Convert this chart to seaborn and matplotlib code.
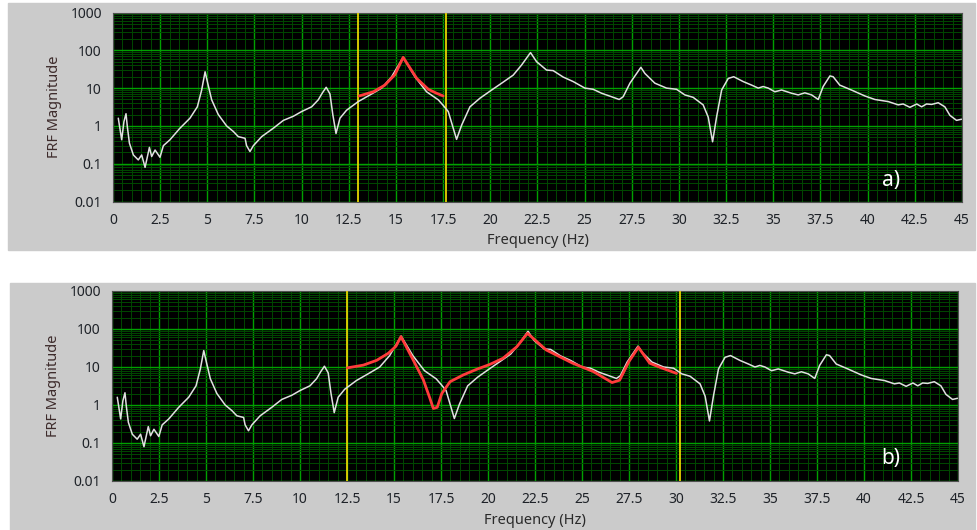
import matplotlib
matplotlib.use("Agg")
import matplotlib.pyplot as plt
import matplotlib.ticker as mticker
from matplotlib.patches import Rectangle
import seaborn as sns

# measured FRF magnitude (same trace in both panels)
FREQ = [0.28, 0.46, 0.58, 0.69, 0.76, 0.87, 1.08, 1.34, 1.52, 1.70, 1.93, 2.05,
        2.23, 2.49, 2.67, 3.02, 3.55, 4.08, 4.47, 4.70, 4.88, 5.02, 5.23, 5.58,
        6.02, 6.38, 6.64, 7.00, 7.08, 7.26, 7.44, 7.88, 8.50, 9.03, 9.56, 10.00,
        10.53, 10.88, 11.10, 11.30, 11.50, 11.65, 11.82, 12.03, 12.38, 13.00,
        13.62, 14.24, 14.77, 15.38, 16.00, 16.62, 17.24, 17.50, 17.77, 18.21,
        18.48, 18.92, 19.45, 20.07, 20.60, 21.21, 21.66, 22.13, 22.45, 22.98,
        23.33, 23.86, 24.39, 25.01, 25.45, 25.90, 26.43, 26.83, 27.04, 27.40,
        27.98, 28.19, 28.72, 29.34, 29.87, 30.31, 30.75, 31.28, 31.55, 31.78,
        31.99, 32.26, 32.61, 32.90, 33.40, 33.85, 34.20, 34.46, 34.73, 35.08,
        35.44, 35.97, 36.32, 36.67, 37.03, 37.38, 37.64, 38.00, 38.17, 38.52,
        39.14, 39.85, 40.38, 41.09, 41.62, 41.88, 42.24, 42.60, 42.86, 43.12,
        43.39, 43.74, 44.09, 44.36, 44.71, 44.97]
MAG = [1.6, 0.43, 1.3, 2.1, 0.95, 0.35, 0.17, 0.126, 0.17, 0.08, 0.27, 0.155,
       0.23, 0.148, 0.30, 0.43, 0.87, 1.6, 3.2, 8.9, 27, 13.5, 4.9, 2.0,
       1.0, 0.71, 0.52, 0.47, 0.30, 0.21, 0.30, 0.52, 0.87, 1.4, 1.8, 2.4,
       3.2, 4.9, 7.5, 10.5, 7.0, 2.0, 0.63, 1.6, 2.6, 4.4,
       6.6, 10, 20, 65, 20, 8, 4.9, 3.5, 2.4, 0.44,
       1.05, 3.2, 5.4, 8.9, 13.5, 22, 41, 87, 50, 30,
       29, 19.6, 14.9, 10, 9.3, 7.3, 5.9, 5.0, 5.9, 13.5,
       35.5, 24.5, 13.5, 10, 9.3, 6.6, 5.7, 3.6, 1.7, 0.38,
       1.7, 8.9, 18, 20, 14.9, 12, 10, 11, 10, 8,
       8.9, 7.3, 6.6, 7.5, 6.6, 5.0, 11, 21, 20, 12,
       8.9, 6.2, 5.0, 4.4, 3.6, 3.8, 3.1, 3.8, 3.2, 3.8,
       3.7, 4.1, 3.2, 1.9, 1.4, 1.5]

# fitted curves
FIT_A_FREQ = [13.05, 13.8, 14.41, 14.94, 15.38, 16.1, 16.71, 17.15, 17.5]
FIT_A_MAG = [6.2, 8, 12, 22.6, 65, 18, 9.3, 7.3, 6.2]
FIT_B_FREQ = [12.52, 13.37, 14.08, 14.7, 15.1, 15.37, 16.03, 16.56, 16.91, 17.09,
              17.3, 17.54, 17.98, 18.69, 19.4, 20.1, 20.8, 21.53, 22.1, 23.1,
              24.5, 25.6, 26.6, 27.0, 27.5, 28.0, 28.6, 29.15, 30.03]
FIT_B_MAG = [9.5, 11.2, 15, 23, 35, 63, 15, 4.6, 1.5, 0.81,
             0.87, 2.0, 4.1, 6.2, 8.7, 11.7, 17, 34, 77, 28,
             12.6, 7.6, 3.9, 4.5, 14, 33, 12.6, 9.8, 6.8]

CURSORS_A = [13.0, 17.65]
CURSORS_B = [12.5, 30.2]

X_TICKS = [0, 2.5, 5, 7.5, 10, 12.5, 15, 17.5, 20, 22.5, 25, 27.5, 30, 32.5,
           35, 37.5, 40, 42.5, 45]
Y_TICKS = [0.01, 0.1, 1, 10, 100, 1000]

W, H = 978, 530
FONT = ["Noto Sans", "DejaVu Sans"]


def px_box(left, top, right, bottom):
    return [left / W, 1 - bottom / H, (right - left) / W, (bottom - top) / H]


def draw_panel(fig, box, fit_f, fit_m, cursors, tag, tag_pos):
    ax = fig.add_axes(px_box(*box))
    ax.set_facecolor("black")
    for x in cursors:
        ax.axvline(x, color="#e6d200", lw=1.3, zorder=3)
    sns.lineplot(x=FREQ, y=MAG, ax=ax, color="#e0e0e0", linewidth=1.1,
                 estimator=None, sort=False, zorder=4)
    sns.lineplot(x=fit_f, y=fit_m, ax=ax, color="#ff3b3b", linewidth=2.0,
                 estimator=None, sort=False, zorder=5)
    ax.set_yscale("log")
    ax.set_xlim(0, 45)
    ax.set_ylim(0.01, 1000)
    ax.set_xticks(X_TICKS)
    ax.set_yticks(Y_TICKS)
    ax.xaxis.set_minor_locator(mticker.MultipleLocator(0.5))
    ax.yaxis.set_minor_locator(mticker.LogLocator(base=10, subs=range(2, 10)))
    fmt = mticker.FuncFormatter(lambda v, p: f"{v:g}")
    ax.xaxis.set_major_formatter(fmt)
    ax.yaxis.set_major_formatter(fmt)
    ax.yaxis.set_minor_formatter(mticker.NullFormatter())
    ax.grid(True, which="major", color="#00a000", lw=1.0, zorder=1)
    ax.grid(True, which="minor", color="#004800", lw=0.7, zorder=0)
    ax.set_axisbelow(True)
    ax.tick_params(which="major", length=5, width=1, color="#404040",
                   labelsize=10, labelcolor="#1e2228", pad=3)
    ax.tick_params(which="minor", length=0)
    for lab in ax.get_xticklabels() + ax.get_yticklabels():
        lab.set_family(FONT)
    for sp in ax.spines.values():
        sp.set_color("#505050")
        sp.set_linewidth(0.8)
    ax.set_xlabel("Frequency (Hz)", fontsize=10.5, color="#2a2a2a",
                  family=FONT, labelpad=4)
    ax.set_ylabel("FRF Magnitude", fontsize=10.5, color="#3d2b2b",
                  family=FONT, labelpad=6)
    ax.text(tag_pos[0], tag_pos[1], tag, color="white", fontsize=15,
            family=FONT, ha="center", va="center", zorder=6)
    return ax


sns.set_style("dark")
fig = plt.figure(figsize=(W / 100, H / 100), dpi=100, facecolor="white")

# grey LabVIEW-like panels behind each graph
for (l, t, r, b) in [(8, 3, 975, 250), (10, 283, 975, 530)]:
    fig.patches.append(Rectangle((l / W, 1 - b / H), (r - l) / W, (b - t) / H,
                                 transform=fig.transFigure, color="#cbcbcb",
                                 zorder=-1))

draw_panel(fig, (113, 12.5, 962, 201.5), FIT_A_FREQ, FIT_A_MAG, CURSORS_A,
           "a)", (41.25, 0.035))
draw_panel(fig, (112, 291, 958, 481), FIT_B_FREQ, FIT_B_MAG, CURSORS_B,
           "b)", (41.4, 0.04))

fig.savefig("out.png", dpi=100, facecolor="white")
